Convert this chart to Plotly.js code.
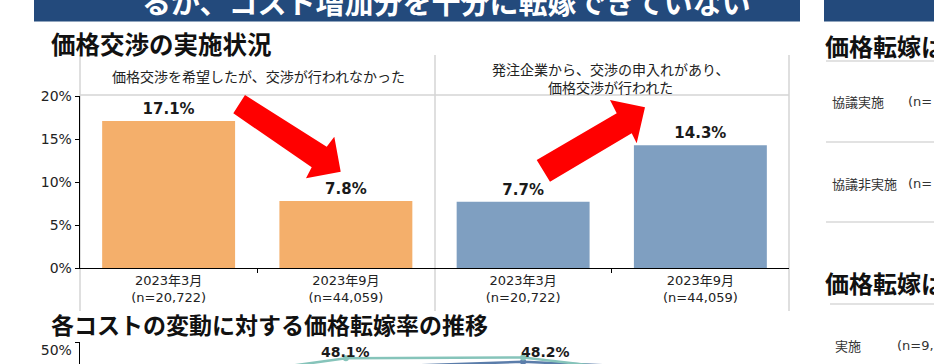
<!DOCTYPE html>
<html><head><meta charset="utf-8">
<script src="https://cdn.plot.ly/plotly-3.0.1.min.js"></script>
<style>html,body{margin:0;padding:0;background:#fff;}#chart{width:934px;height:364px;}</style>
</head><body><div id="chart"></div>
<script>
// ---- data ----
const categories = ['2023年3月', '2023年9月', '2023年3月', '2023年9月'];
const sampleSizes = ['n=20,722', 'n=44,059', 'n=20,722', 'n=44,059'];
const notNegotiatedRate = [17.1, 7.8];   // 価格交渉を希望したが、交渉が行われなかった
const negotiatedRate = [7.7, 14.3];      // 発注企業から、交渉の申入れがあり、価格交渉が行われた
const groupLabels = ['価格交渉を希望したが、交渉が行われなかった', '発注企業から、交渉の申入れがあり、<br>価格交渉が行われた'];
const yTickVals = [0, 5, 10, 15, 20];
const yTickText = ['0%', '5%', '10%', '15%', '20%'];
// lower chart (partly visible)
const trendIndex = [0, 1, 2, 3];
const trendTeal = [45.3, 48.1, 48.2, 45.8];
const trendBlue = [44.5, 47.0, 47.7, 46.8];
const trendTealLabels = ['', '48.1%', '48.2%', ''];

// ---- helpers (pixel -> paper) ----
const W = 934, H = 364;
const X = p => p / W;
const Y = p => 1 - p / H;
const CJK = '"DejaVu Sans", "Noto Sans CJK JP", sans-serif';
const JP = '"Noto Sans CJK JP", sans-serif';

const tickText = categories.map((c, i) => c + '<br>(' + sampleSizes[i] + ')');

const traces = [
  {type: 'bar', x: [0, 1], y: notNegotiatedRate, width: 0.75,
   marker: {color: '#F4AF6B'}, xaxis: 'x', yaxis: 'y',
   texttemplate: '%{y:.1f}%', textposition: 'outside', cliponaxis: false,
   textfont: {family: '"DejaVu Sans", sans-serif', size: 15, color: '#1a1a1a', weight: 700},
   hoverinfo: 'skip'},
  {type: 'bar', x: [2, 3], y: negotiatedRate, width: 0.75,
   marker: {color: '#7F9FC1'}, xaxis: 'x', yaxis: 'y',
   texttemplate: '%{y:.1f}%', textposition: 'outside', cliponaxis: false,
   textfont: {family: '"DejaVu Sans", sans-serif', size: 15, color: '#1a1a1a', weight: 700},
   hoverinfo: 'skip'},
  {type: 'scatter', mode: 'lines+markers', x: trendIndex, y: trendBlue,
   xaxis: 'x2', yaxis: 'y2', line: {color: '#5B7DAA', width: 2.5},
   marker: {color: '#5B7DAA', size: 6}, hoverinfo: 'skip'},
  {type: 'scatter', mode: 'lines+markers', x: trendIndex, y: trendTeal,
   xaxis: 'x2', yaxis: 'y2', line: {color: '#86C4BA', width: 2.5},
   marker: {color: '#86C4BA', size: 6}, hoverinfo: 'skip'}
];

function arrowPath(pts) {
  return 'M ' + pts.map(p => X(p[0]).toFixed(5) + ',' + Y(p[1]).toFixed(5)).join(' L ') + ' Z';
}
const arrowDown = [[245,95],[326.7,146.7],[334.3,136.7],[340.7,171.7],[306,178.3],[311.7,167.3],[233.3,113.3]];
const arrowUp = [[536.7,160],[616.7,113.3],[610,100],[645,107.3],[636.7,143.3],[631.7,133.3],[550,181.7]];

const gray = '#D4D4D4';
const shapes = [
  // header bars
  {type: 'rect', xref: 'paper', yref: 'paper', x0: X(34), x1: X(800), y0: Y(21.5), y1: Y(-2), fillcolor: '#234A7C', line: {width: 0}},
  {type: 'rect', xref: 'paper', yref: 'paper', x0: X(824), x1: X(936), y0: Y(21.5), y1: Y(-2), fillcolor: '#234A7C', line: {width: 0}},
  // panel dividers
  {type: 'line', xref: 'paper', yref: 'paper', x0: X(80), x1: X(80), y0: Y(55), y1: Y(311), line: {color: gray, width: 1.5}, layer: 'below'},
  {type: 'line', xref: 'paper', yref: 'paper', x0: X(435), x1: X(435), y0: Y(55), y1: Y(311), line: {color: gray, width: 1.5}, layer: 'below'},
  {type: 'line', xref: 'paper', yref: 'paper', x0: X(789), x1: X(789), y0: Y(55), y1: Y(311), line: {color: gray, width: 1.5}, layer: 'below'},
  {type: 'line', xref: 'paper', yref: 'paper', x0: X(80), x1: X(789), y0: Y(95), y1: Y(95), line: {color: gray, width: 1.5}, layer: 'below'},
  // right panel rules
  {type: 'line', xref: 'paper', yref: 'paper', x0: X(826), x1: X(934), y0: Y(61), y1: Y(61), line: {color: '#D9D9D9', width: 1.5}},
  {type: 'line', xref: 'paper', yref: 'paper', x0: X(826), x1: X(934), y0: Y(142), y1: Y(142), line: {color: '#D9D9D9', width: 1.5}},
  {type: 'line', xref: 'paper', yref: 'paper', x0: X(826), x1: X(934), y0: Y(222), y1: Y(222), line: {color: '#D9D9D9', width: 1.5}},
  {type: 'line', xref: 'paper', yref: 'paper', x0: X(830), x1: X(934), y0: Y(304), y1: Y(304), line: {color: '#D9D9D9', width: 1.5}},
  // red arrows
  {type: 'path', xref: 'paper', yref: 'paper', path: arrowPath(arrowDown), fillcolor: '#FF0000', line: {width: 0}, layer: 'above'},
  {type: 'path', xref: 'paper', yref: 'paper', path: arrowPath(arrowUp), fillcolor: '#FF0000', line: {width: 0}, layer: 'above'}
];

function note(text, x, y, size, opts) {
  return Object.assign({xref: 'paper', yref: 'paper', x: X(x), y: Y(y), text: text, showarrow: false,
    xanchor: 'left', yanchor: 'middle', font: {family: JP, size: size, color: '#111'}}, opts || {});
}

const annotations = [
  note('<b>るが、コスト増加分を十分に転嫁できていない</b>', 140, 1, 29, {font: {family: JP, size: 29, color: '#fff'}}),
  note('<b>価格交渉の実施状況</b>', 49, 43, 24.5),
  note('<b>各コストの変動に対する価格転嫁率の推移</b>', 49, 324, 23),
  note('<b>価格転嫁は</b>', 823, 45, 24),
  note('<b>価格転嫁は</b>', 823, 282, 24),
  note(groupLabels[0], 258, 76, 14, {xanchor: 'center', font: {family: JP, size: 14, color: '#222'}}),
  note(groupLabels[1], 610, 77.5, 14, {xanchor: 'center', font: {family: JP, size: 14, color: '#222'}}),
  note('協議実施', 830, 101, 13, {font: {family: JP, size: 13, color: '#333'}}),
  note('(n=', 906, 101, 13, {font: {family: CJK, size: 13, color: '#333'}}),
  note('協議非実施', 830, 183, 13, {font: {family: JP, size: 13, color: '#333'}}),
  note('(n=', 906, 183, 13, {font: {family: CJK, size: 13, color: '#333'}}),
  note('実施', 833, 345, 13, {font: {family: JP, size: 13, color: '#333'}}),
  note('(n=9,', 895, 345, 13, {font: {family: CJK, size: 13, color: '#333'}})
];
// value labels of the lower chart, anchored on the data points
trendTealLabels.forEach((lab, i) => {
  if (!lab) return;
  annotations.push({xref: 'x2', yref: 'y2', x: trendIndex[i], y: trendTeal[i], text: '<b>' + lab + '</b>',
    showarrow: false, xanchor: i === 2 ? 'left' : 'center', yanchor: 'middle', yshift: 6, xshift: i === 2 ? -4 : 0,
    font: {family: '"DejaVu Sans", sans-serif', size: 14, color: '#1a1a1a'}});
});

const layout = {
  width: W, height: H,
  margin: {l: 0, r: 0, t: 0, b: 0, pad: 0},
  paper_bgcolor: '#ffffff', plot_bgcolor: 'rgba(0,0,0,0)',
  showlegend: false, barmode: 'overlay',
  xaxis: {domain: [X(80), X(789)], range: [-0.5, 3.5], anchor: 'y',
    tickvals: [0, 1, 2, 3], ticktext: tickText, ticks: '', showgrid: false, zeroline: false,
    showline: true, linecolor: '#000', linewidth: 1.3,
    tickfont: {family: CJK, size: 13, color: '#222'},
    minor: {tickvals: [0.5, 2.5], ticks: 'outside', ticklen: 4, tickcolor: '#000', showgrid: false}},
  yaxis: {domain: [Y(268), Y(96)], range: [0, 20.02], anchor: 'x',
    tickvals: yTickVals, ticktext: yTickText, ticks: 'outside', ticklen: 4, tickcolor: '#000',
    showgrid: false, zeroline: false, showline: true, linecolor: '#000', linewidth: 1.3,
    tickfont: {family: CJK, size: 14, color: '#222'}},
  xaxis2: {domain: [X(80), X(789)], range: [-0.5, 3.5], anchor: 'y2', visible: false},
  yaxis2: {domain: [0, Y(342)], range: [50 - 22 / 8.6, 50.01], anchor: 'x2',
    tickvals: [50], ticktext: ['50%'], ticks: 'outside', ticklen: 4, tickcolor: '#000',
    ticklabelshift: 8,
    showgrid: false, zeroline: false, showline: true, linecolor: '#000', linewidth: 1.3,
    tickfont: {family: CJK, size: 14, color: '#222'}},
  shapes: shapes,
  annotations: annotations
};

Plotly.newPlot('chart', traces, layout, {staticPlot: true, displayModeBar: false});
</script></body></html>
